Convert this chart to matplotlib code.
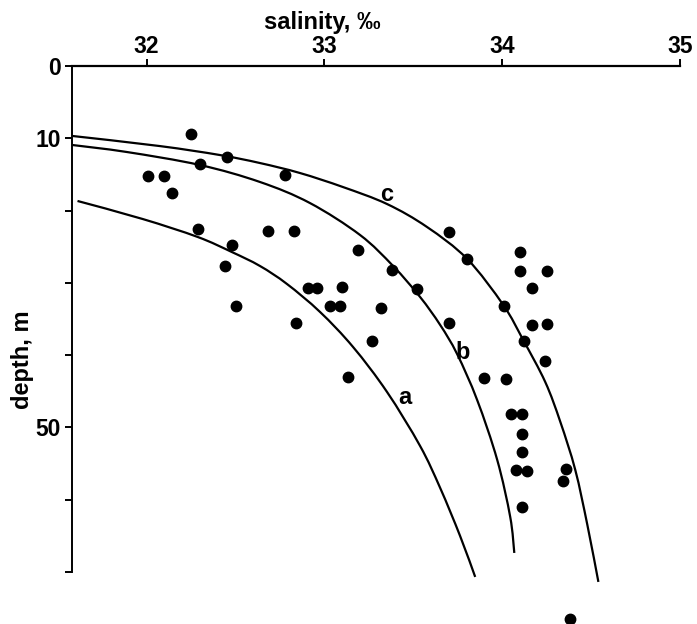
import numpy as np
import matplotlib.pyplot as plt
from matplotlib.path import Path
from matplotlib.patches import PathPatch

plt.rcParams['font.family'] = ['Liberation Sans', 'DejaVu Sans']
plt.rcParams['font.weight'] = 'bold'

# observations (salinity in permille, depth in m)
salinity = [32.25, 32.45, 32.30, 32.01, 32.10, 32.14, 32.78, 32.29, 32.48, 32.44,
            32.50, 32.68, 32.83, 32.91, 32.96, 33.10, 33.03, 33.09, 32.84, 33.19,
            33.38, 33.52, 33.32, 33.27, 33.13, 33.70, 33.80, 34.10, 34.10, 34.25,
            34.17, 33.70, 34.01, 34.17, 34.25, 34.12, 34.24, 33.90, 34.02, 34.05,
            34.11, 34.11, 34.11, 34.08, 34.14, 34.36, 34.34, 34.11, 34.38]
depth = [9.4, 12.6, 13.6, 15.2, 15.2, 17.6, 15.1, 22.5, 24.8, 27.7,
         33.2, 22.8, 22.8, 30.7, 30.7, 30.6, 33.2, 33.2, 35.5, 25.4,
         28.2, 30.8, 33.5, 38.0, 43.0, 23.0, 26.7, 25.7, 28.4, 28.4,
         30.7, 35.5, 33.2, 35.8, 35.7, 38.0, 40.8, 43.2, 43.3, 48.1,
         48.1, 50.9, 53.4, 55.9, 56.0, 55.7, 57.4, 61.0, 76.5]

# fitted curves
curve_a_sal = [31.611, 31.977, 32.287, 32.479, 32.637, 32.789, 32.975,
               33.161, 33.352, 33.538, 33.651, 33.763, 33.848]
curve_a_depth = [18.67, 21.16, 23.65, 25.73, 27.66, 30.15, 34.02,
                 38.87, 45.09, 52.56, 58.37, 65.01, 70.68]

curve_b_sal = [31.583, 31.887, 32.299, 32.637, 32.918, 33.200, 33.386,
               33.538, 33.651, 33.746, 33.859, 33.972, 34.045, 34.068]
curve_b_depth = [10.93, 11.89, 13.69, 16.04, 18.95, 23.37, 27.66,
                 31.95, 35.82, 39.83, 46.20, 54.50, 62.38, 67.36]

curve_c_sal = [31.583, 32.073, 32.411, 32.637, 32.862, 33.104, 33.352, 33.577,
               33.803, 34.006, 34.118, 34.242, 34.327, 34.411, 34.479, 34.541]
curve_c_depth = [9.68, 11.07, 12.31, 13.42, 14.80, 16.74, 19.09, 22.27,
                 26.69, 33.06, 37.90, 43.71, 49.24, 55.88, 63.49, 71.37]

curve_labels = ['a', 'b', 'c']
label_sal = [33.45, 33.78, 33.35]
label_depth = [45.9, 39.7, 17.8]

sal_ticks = [32, 33, 34, 35]
depth_ticks = [0, 10, 20, 30, 40, 50, 60, 70]
depth_ticklabels = ['0', '10', '', '', '', '50', '', '']


def smooth_path(xs, ys):
    # Catmull-Rom through the read points, drawn as cubic Bezier segments
    p = np.column_stack([xs, ys])
    verts = [p[0]]
    codes = [Path.MOVETO]
    n = len(p)
    for i in range(n - 1):
        p0 = p[i - 1] if i > 0 else p[i]
        p1, p2 = p[i], p[i + 1]
        p3 = p[i + 2] if i + 2 < n else p[i + 1]
        verts += [p1 + (p2 - p0) / 6, p2 - (p3 - p1) / 6, p2]
        codes += [Path.CURVE4] * 3
    return Path(verts, codes)


fig = plt.figure(figsize=(6.97, 6.24), dpi=100)
ax = fig.add_axes((0.1033, 0.0833, 0.8723, 0.8109))

for s, d in [(curve_a_sal, curve_a_depth), (curve_b_sal, curve_b_depth),
             (curve_c_sal, curve_c_depth)]:
    ax.add_patch(PathPatch(smooth_path(s, d), facecolor='none', edgecolor='black',
                           linewidth=1.6, clip_on=False))

ax.plot(salinity, depth, 'o', color='black', markersize=7.5, clip_on=False)

for lab, s, d in zip(curve_labels, label_sal, label_depth):
    ax.text(s, d, lab, fontsize=17, fontweight='bold', ha='center', va='center')

ax.set_xlim(31.58, 35)
ax.set_ylim(70, 0)
ax.xaxis.tick_top()
ax.set_xticks(sal_ticks)
ax.set_xticklabels([str(t) for t in sal_ticks])
ax.set_yticks(depth_ticks)
ax.set_yticklabels(depth_ticklabels)
ax.tick_params(direction='out', length=5, width=1.4, labelsize=16.5)
ax.tick_params(axis='x', pad=1)
ax.tick_params(axis='y', pad=3)

ax.spines['bottom'].set_visible(False)
ax.spines['right'].set_visible(False)
ax.spines['top'].set_linewidth(1.6)
ax.spines['left'].set_linewidth(1.4)

fig.text(322 / 697, 1 - 23 / 624, 'salinity, ‰', fontsize=17, fontweight='bold',
         ha='center', va='center')
fig.text(22 / 697, 1 - 360 / 624, 'depth, m', fontsize=17, fontweight='bold',
         rotation=90, ha='center', va='center')

fig.savefig('out.png', dpi=100)
